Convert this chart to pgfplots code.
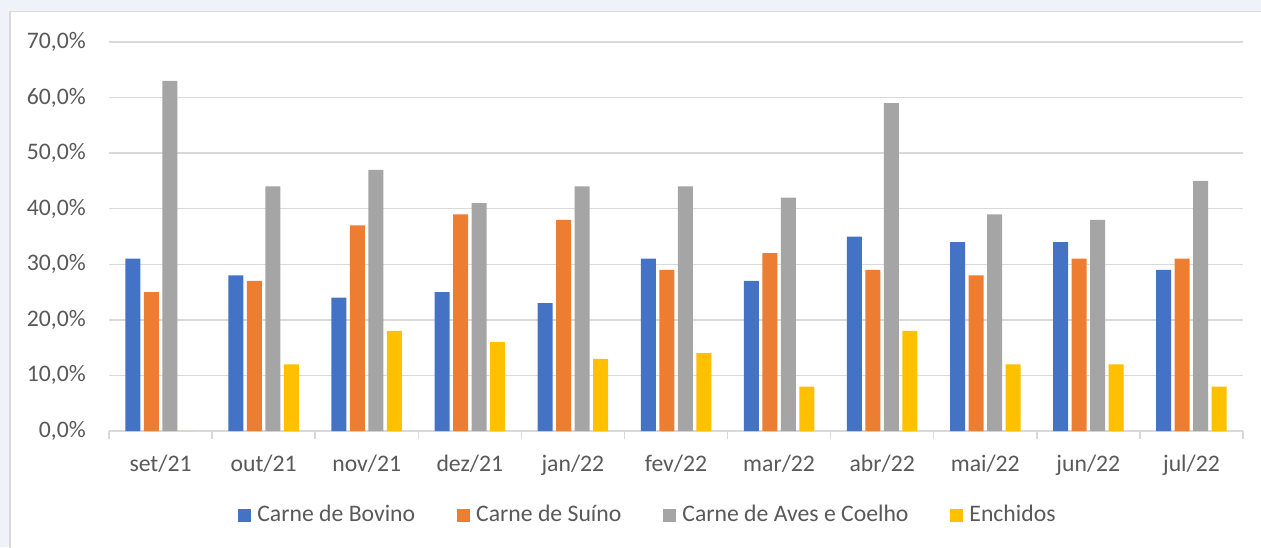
\documentclass[border=0pt]{standalone}
\usepackage{pgfplots}
\pgfplotsset{compat=1.18}
\usepackage{fontspec}
\setmainfont{Carlito}
\definecolor{cblue}{HTML}{4472C4}
\definecolor{corange}{HTML}{ED7D31}
\definecolor{cgray}{HTML}{A5A5A5}
\definecolor{cyellow}{HTML}{FFC000}
\definecolor{textc}{HTML}{595959}
\definecolor{gridc}{HTML}{D9D9D9}
\definecolor{bgc}{HTML}{EFF3F9}
\newcommand{\chartfont}{\fontsize{23.7pt}{28pt}\selectfont}
\begin{document}
\chartfont
\begin{tikzpicture}[x=1pt,y=1pt]
\useasboundingbox (0,0) rectangle (1261,547);
\fill[bgc] (0,0) rectangle (1261,547);
\fill[white, draw=gridc, line width=1.5] (10,-5) rectangle (1270,535.5);
\begin{axis}[
  at={(109pt,116pt)}, anchor=south west,
  scale only axis, width=1134pt, height=389pt,
  ybar=3.5pt, bar width=15pt,
  xmin=-0.5, xmax=10.5, ymin=0, ymax=70,
  xtick={0,...,10},
  xticklabels={set/21,out/21,nov/21,dez/21,jan/22,fev/22,mar/22,abr/22,mai/22,jun/22,jul/22},
  minor xtick={-0.5,0.5,...,10.5},
  ytick={0,10,...,70},
  yticklabels={{0,0\%},{10,0\%},{20,0\%},{30,0\%},{40,0\%},{50,0\%},{60,0\%},{70,0\%}},
  xtick pos=bottom, ytick pos=left,
  tick align=outside,
  major tick length=0pt, minor tick length=8pt,
  minor tick style={draw=gridc, line width=1.5pt},
  axis line style={draw=none},
  ymajorgrids, grid style={draw=gridc, line width=1.5pt},
  ticklabel style={text=textc, font=\chartfont},
  xticklabel style={anchor=base, inner sep=0pt, yshift=-40pt},
  yticklabel style={anchor=east, inner sep=0pt, xshift=-23pt},
  legend columns=4,
  legend style={at={(axis description cs:0.4753,-0.2172)}, anchor=center,
    draw=none, fill=none, font=\chartfont, text=textc,
    /tikz/every odd column/.append style={column sep=4pt},
    /tikz/every even column/.append style={column sep=40pt}},
  legend image code/.code={\fill[#1] (0pt,-6.5pt) rectangle (13pt,6.5pt);},
]
\addplot[fill=cblue, draw=none] coordinates {(0,31) (1,28) (2,24) (3,25) (4,23) (5,31) (6,27) (7,35) (8,34) (9,34) (10,29)};
\addplot[fill=corange, draw=none] coordinates {(0,25) (1,27) (2,37) (3,39) (4,38) (5,29) (6,32) (7,29) (8,28) (9,31) (10,31)};
\addplot[fill=cgray, draw=none] coordinates {(0,63) (1,44) (2,47) (3,41) (4,44) (5,44) (6,42) (7,59) (8,39) (9,38) (10,45)};
\addplot[fill=cyellow, draw=none] coordinates {(0,0) (1,12) (2,18) (3,16) (4,13) (5,14) (6,8) (7,18) (8,12) (9,12) (10,8)};
\legend{Carne de Bovino, Carne de Suíno, Carne de Aves e Coelho, Enchidos}
\end{axis}
\end{tikzpicture}
\end{document}
